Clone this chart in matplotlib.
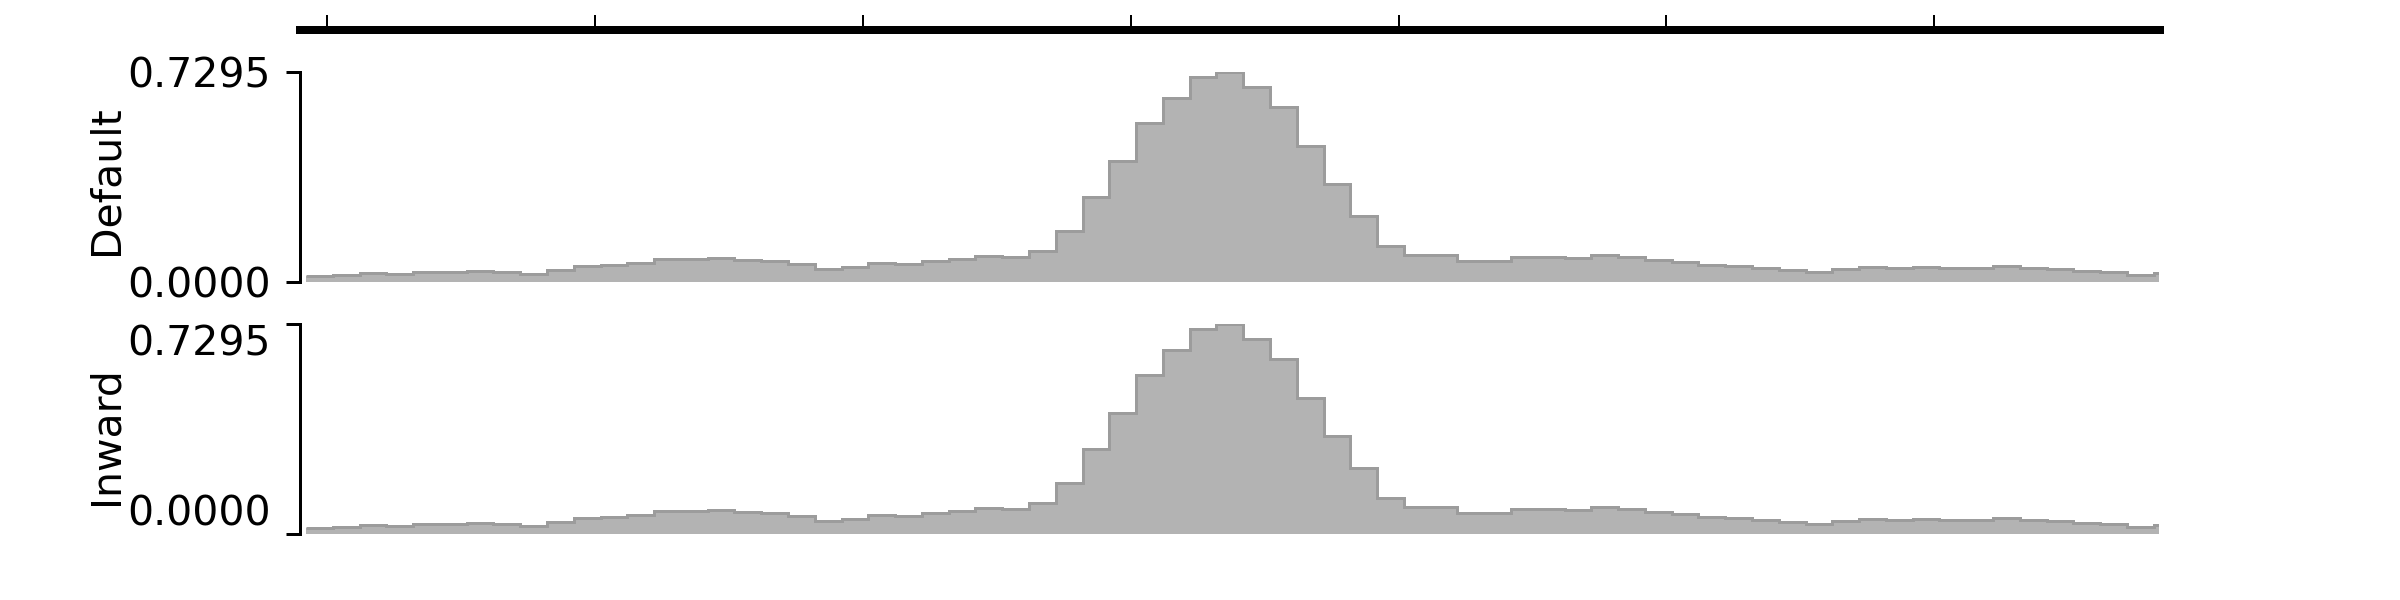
import numpy as np
import matplotlib
matplotlib.use('Agg')
import matplotlib.pyplot as plt

# bin signal (same track drawn twice)
signal = [0.021, 0.026, 0.033, 0.029, 0.035, 0.035, 0.037, 0.035, 0.029, 0.043,
          0.056, 0.058, 0.067, 0.081, 0.081, 0.085, 0.076, 0.072, 0.064, 0.0465,
          0.052, 0.066, 0.064, 0.073, 0.081, 0.091, 0.087, 0.107, 0.178, 0.294,
          0.419, 0.553, 0.638, 0.712, 0.7295, 0.678, 0.607, 0.474, 0.340, 0.230,
          0.126, 0.093, 0.093, 0.073, 0.073, 0.088, 0.088, 0.084, 0.095, 0.087,
          0.078, 0.069, 0.058, 0.056, 0.047, 0.041, 0.035, 0.044, 0.051, 0.048,
          0.051, 0.048, 0.050, 0.056, 0.050, 0.044, 0.037, 0.035, 0.026, 0.030]
track_names = ['Default', 'Inward']
region_start = 10046000
bin_size = 5000
region_end = region_start + 69.2 * bin_size
xticks = [10050000, 10100000, 10150000, 10200000, 10250000, 10300000, 10350000]
ytick_vals = [0.0, 0.7295]

edges = region_start + bin_size * np.arange(len(signal) + 1)
vals = np.array(signal)

W, H = 2400, 600
fig = plt.figure(figsize=(24, 6), dpi=100)
plt.rcParams['font.family'] = ['DejaVu Sans']
FS = 29.5
PX = 72 / 100  # points per pixel
bp_per_px = bin_size / 26.78


def px_box(left, top, right, bottom):
    return [left / W, 1 - bottom / H, (right - left) / W, (bottom - top) / H]


# x axis track on top (its thick line has projecting caps)
ax_top = fig.add_axes(px_box(300, 0, 2160, 30))
ax_top.set_xlim(region_start - 6 * bp_per_px, region_end + 1 * bp_per_px)
for s in ['top', 'left', 'right']:
    ax_top.spines[s].set_visible(False)
ax_top.spines['bottom'].set_linewidth(8 * PX)
ax_top.set_xticks(xticks)
ax_top.tick_params(axis='x', direction='in', length=15 * PX, width=2 * PX,
                   labelbottom=False)
ax_top.set_yticks([])
ax_top.patch.set_visible(False)

panels = [(72, 282, 0.486), (324, 534, 0.471)]
for name, (top, bottom, label_y) in zip(track_names, panels):
    ax = fig.add_axes(px_box(306, top, 2159, bottom))
    ax.stairs(vals, edges, fill=True, color='#b3b3b3', linewidth=0)
    ax.stairs(vals, edges, baseline=None, color='#9c9c9c', linewidth=3 * PX)
    ax.set_xlim(region_start, region_end)
    ax.set_ylim(0, max(signal))
    for s in ['top', 'bottom', 'right']:
        ax.spines[s].set_visible(False)
    ax.spines['left'].set_position(('outward', 6 * PX))
    ax.spines['left'].set_linewidth(3 * PX)
    ax.spines['left'].set_bounds(0, max(signal))
    ax.set_xticks([])
    ax.set_yticks([0, max(signal)])
    ax.set_yticklabels(['%.4f' % v for v in ytick_vals])
    ax.tick_params(axis='y', length=14 * PX, width=3 * PX, pad=15 * PX,
                   labelsize=FS)
    if name == 'Inward':
        lbls = ax.get_yticklabels()
        lbls[0].set_va('bottom')
        lbls[1].set_va('top')
    ax.text(-(306 - 107) / 1853, label_y, name, transform=ax.transAxes,
            rotation=90, ha='center', va='center', fontsize=FS)

fig.savefig('out.png', dpi=100)
